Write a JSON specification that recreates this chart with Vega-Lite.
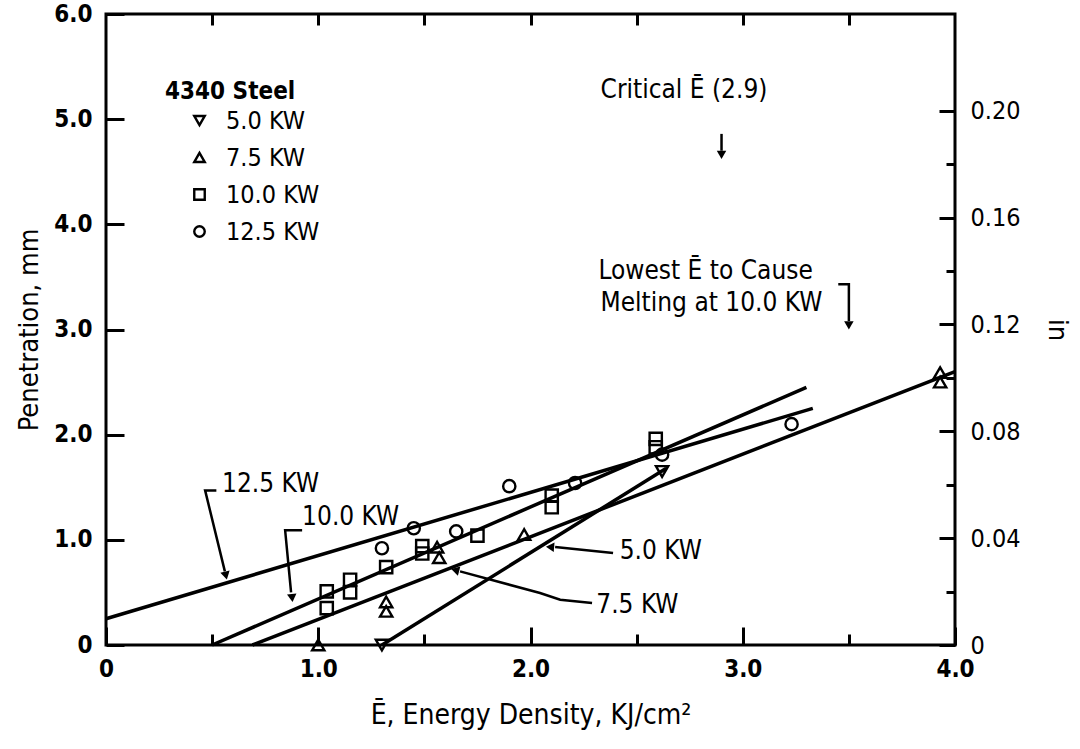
{
  "$schema": "https://vega.github.io/schema/vega-lite/v6.json",
  "width": 849,
  "height": 631,
  "autosize": {"type": "none"},
  "padding": {"left": 106, "top": 14, "right": 125, "bottom": 104},
  "background": "white",
  "config": {
    "view": {"stroke": "black", "strokeWidth": 3},
    "axis": {
      "grid": false,
      "domain": false,
      "tickColor": "black",
      "tickWidth": 3,
      "labelColor": "black",
      "titleColor": "black",
      "labelFont": "DejaVu Sans Condensed",
      "titleFont": "DejaVu Sans Condensed",
      "labelOverlap": false,
      "labelFlush": false,
      "labelBound": false
    },
    "legend": {
      "labelFont": "DejaVu Sans Condensed",
      "titleFont": "DejaVu Sans Condensed",
      "labelColor": "black",
      "titleColor": "black"
    }
  },
  "datasets": {
    "points": [
      {"power": "5.0 KW", "E": 1.30, "pen": 0.0},
      {"power": "5.0 KW", "E": 2.62, "pen": 1.65},
      {"power": "7.5 KW", "E": 1.00, "pen": 0.0},
      {"power": "7.5 KW", "E": 1.32, "pen": 0.41},
      {"power": "7.5 KW", "E": 1.32, "pen": 0.32},
      {"power": "7.5 KW", "E": 1.56, "pen": 0.93},
      {"power": "7.5 KW", "E": 1.57, "pen": 0.83},
      {"power": "7.5 KW", "E": 1.97, "pen": 1.05},
      {"power": "7.5 KW", "E": 3.93, "pen": 2.59},
      {"power": "7.5 KW", "E": 3.93, "pen": 2.50},
      {"power": "10.0 KW", "E": 1.04, "pen": 0.51},
      {"power": "10.0 KW", "E": 1.04, "pen": 0.35},
      {"power": "10.0 KW", "E": 1.15, "pen": 0.62},
      {"power": "10.0 KW", "E": 1.15, "pen": 0.50},
      {"power": "10.0 KW", "E": 1.32, "pen": 0.74},
      {"power": "10.0 KW", "E": 1.49, "pen": 0.94},
      {"power": "10.0 KW", "E": 1.49, "pen": 0.87},
      {"power": "10.0 KW", "E": 1.75, "pen": 1.04},
      {"power": "10.0 KW", "E": 2.10, "pen": 1.42},
      {"power": "10.0 KW", "E": 2.10, "pen": 1.31},
      {"power": "10.0 KW", "E": 2.59, "pen": 1.96},
      {"power": "10.0 KW", "E": 2.59, "pen": 1.88},
      {"power": "12.5 KW", "E": 1.30, "pen": 0.92},
      {"power": "12.5 KW", "E": 1.45, "pen": 1.11},
      {"power": "12.5 KW", "E": 1.65, "pen": 1.08},
      {"power": "12.5 KW", "E": 1.90, "pen": 1.51},
      {"power": "12.5 KW", "E": 2.21, "pen": 1.54},
      {"power": "12.5 KW", "E": 2.62, "pen": 1.81},
      {"power": "12.5 KW", "E": 3.23, "pen": 2.10}
    ],
    "fits": [
      {"series": "12.5 KW", "E": 0.0, "pen": 0.25},
      {"series": "12.5 KW", "E": 3.33, "pen": 2.25},
      {"series": "10.0 KW", "E": 0.50, "pen": 0.0},
      {"series": "10.0 KW", "E": 3.30, "pen": 2.45},
      {"series": "7.5 KW", "E": 0.69, "pen": 0.0},
      {"series": "7.5 KW", "E": 4.0, "pen": 2.60},
      {"series": "5.0 KW", "E": 1.30, "pen": 0.0},
      {"series": "5.0 KW", "E": 2.64, "pen": 1.68}
    ],
    "leaders": [
      {"id": "l125", "seq": 1, "E": 0.52, "pen": 1.47},
      {"id": "l125", "seq": 2, "E": 0.467, "pen": 1.47},
      {"id": "l125", "seq": 3, "E": 0.56, "pen": 0.70},
      {"id": "l100", "seq": 1, "E": 0.924, "pen": 1.09},
      {"id": "l100", "seq": 2, "E": 0.844, "pen": 1.09},
      {"id": "l100", "seq": 3, "E": 0.872, "pen": 0.50},
      {"id": "l50", "seq": 1, "E": 2.389, "pen": 0.875},
      {"id": "l50", "seq": 2, "E": 2.116, "pen": 0.932},
      {"id": "l75", "seq": 1, "E": 2.29, "pen": 0.40},
      {"id": "l75", "seq": 2, "E": 2.14, "pen": 0.43},
      {"id": "l75", "seq": 3, "E": 2.045, "pen": 0.494},
      {"id": "l75", "seq": 4, "E": 1.668, "pen": 0.70},
      {"id": "crit", "seq": 1, "E": 2.9, "pen": 4.86},
      {"id": "crit", "seq": 2, "E": 2.9, "pen": 4.70},
      {"id": "melt", "seq": 1, "E": 3.45, "pen": 3.43},
      {"id": "melt", "seq": 2, "E": 3.5, "pen": 3.43},
      {"id": "melt", "seq": 3, "E": 3.5, "pen": 3.08}
    ],
    "heads": [
      {"id": "crit", "E": 2.9, "pen": 4.66, "heading": 0},
      {"id": "melt", "E": 3.5, "pen": 3.04, "heading": 0},
      {"id": "l125", "E": 0.565, "pen": 0.66, "heading": -13},
      {"id": "l100", "E": 0.877, "pen": 0.447, "heading": -6},
      {"id": "l50", "E": 2.092, "pen": 0.932, "heading": 95},
      {"id": "l75", "E": 1.645, "pen": 0.713, "heading": 105}
    ],
    "notes": [
      {"label": "Critical Ē (2.9)", "E": 2.33, "pen": 5.28},
      {"label": "Lowest Ē to Cause", "E": 2.32, "pen": 3.56},
      {"label": "Melting at 10.0 KW", "E": 2.33, "pen": 3.25},
      {"label": "12.5 KW", "E": 0.547, "pen": 1.53},
      {"label": "10.0 KW", "E": 0.924, "pen": 1.22},
      {"label": "5.0 KW", "E": 2.42, "pen": 0.89},
      {"label": "7.5 KW", "E": 2.31, "pen": 0.38}
    ]
  },
  "layer": [
    {
      "data": {"name": "fits"},
      "mark": {"type": "line", "color": "black", "strokeWidth": 3.5},
      "encoding": {
        "x": {
          "field": "E", "type": "quantitative",
          "scale": {"domain": [0, 4], "nice": false, "zero": false},
          "axis": {
            "orient": "bottom", "values": [0, 1, 2, 3, 4],
            "labelExpr": "datum.value == 0 ? '0' : format(datum.value, '.1f')",
            "offset": -18, "tickSize": 18, "labelPadding": 12,
            "labelFontSize": 24, "labelFontWeight": "bold",
            "title": "Ē, Energy Density, KJ/cm²", "titleFontSize": 28,
            "titleFontWeight": "normal", "titlePadding": 20
          }
        },
        "y": {
          "field": "pen", "type": "quantitative",
          "scale": {"domain": [0, 6], "nice": false, "zero": false},
          "axis": {
            "orient": "left", "values": [0, 1, 2, 3, 4, 5, 6],
            "labelExpr": "datum.value == 0 ? '0' : format(datum.value, '.1f')",
            "offset": -18, "tickSize": 18, "labelPadding": 14,
            "labelFontSize": 24, "labelFontWeight": "bold",
            "title": "Penetration, mm", "titleFontSize": 27,
            "titleFontWeight": "normal", "titlePadding": 10
          }
        },
        "detail": {"field": "series"}
      }
    },
    {
      "data": {"name": "points"},
      "mark": {"type": "point", "filled": false, "color": "black", "strokeWidth": 2.4, "size": 150, "opacity": 1},
      "encoding": {
        "x": {
          "field": "E", "type": "quantitative",
          "scale": {"domain": [0, 4], "nice": false, "zero": false},
          "axis": {
            "orient": "bottom", "values": [0.5, 1.5, 2.5, 3.5],
            "offset": -11, "tickSize": 11, "labels": false, "title": null
          }
        },
        "y": {
          "field": "pen", "type": "quantitative",
          "scale": {"domain": [0, 6], "nice": false, "zero": false},
          "axis": {
            "orient": "right", "values": [0, 1.016, 2.032, 3.048, 4.064, 5.08],
            "labelExpr": "datum.value == 0 ? '0' : format(datum.value / 25.4, '.2f')",
            "offset": -16, "tickSize": 16, "labelPadding": 15,
            "labelFontSize": 25,
            "title": "in", "titleFontSize": 27, "titleFontWeight": "normal",
            "titlePadding": 22
          }
        },
        "shape": {
          "field": "power", "type": "nominal",
          "scale": {
            "domain": ["5.0 KW", "7.5 KW", "10.0 KW", "12.5 KW"],
            "range": ["triangle-down", "triangle-up", "square", "circle"]
          },
          "legend": {
            "title": "4340 Steel", "orient": "none", "legendX": 59, "legendY": 66,
            "titleFontSize": 24, "titleFontWeight": "bold", "titlePadding": 4,
            "labelFontSize": 25, "symbolSize": 110, "symbolStrokeWidth": 2.4,
            "symbolStrokeColor": "black", "symbolFillColor": "white",
            "symbolType": "circle",
            "rowPadding": 11, "symbolOffset": 22, "labelOffset": 14
          }
        }
      }
    },
    {
      "data": {"name": "leaders"},
      "mark": {"type": "line", "color": "black", "strokeWidth": 2.5},
      "encoding": {
        "x": {
          "field": "E", "type": "quantitative",
          "scale": {"domain": [0, 4], "nice": false, "zero": false},
          "axis": {
            "orient": "top", "values": [0.5, 1, 1.5, 2, 2.5, 3, 3.5],
            "offset": -11, "tickSize": 11, "labels": false, "title": null
          }
        },
        "y": {
          "field": "pen", "type": "quantitative",
          "scale": {"domain": [0, 6], "nice": false, "zero": false},
          "axis": {
            "orient": "right", "values": [0.508, 1.524, 2.54, 3.556, 4.572],
            "offset": -9, "tickSize": 9, "labels": false, "title": null
          }
        },
        "detail": {"field": "id"},
        "order": {"field": "seq"}
      }
    },
    {
      "data": {"name": "heads"},
      "mark": {"type": "point", "shape": "triangle-down", "filled": true, "color": "black", "size": 90, "opacity": 1},
      "encoding": {
        "x": {"field": "E", "type": "quantitative", "axis": null},
        "y": {"field": "pen", "type": "quantitative", "axis": null},
        "angle": {"field": "heading", "type": "quantitative", "scale": null}
      }
    },
    {
      "data": {"name": "notes"},
      "mark": {"type": "text", "align": "left", "baseline": "middle", "font": "DejaVu Sans Condensed", "fontSize": 26, "color": "black"},
      "encoding": {
        "x": {"field": "E", "type": "quantitative", "axis": null},
        "y": {"field": "pen", "type": "quantitative", "axis": null},
        "text": {"field": "label"}
      }
    }
  ],
  "resolve": {"axis": {"x": "independent", "y": "independent"}}
}
